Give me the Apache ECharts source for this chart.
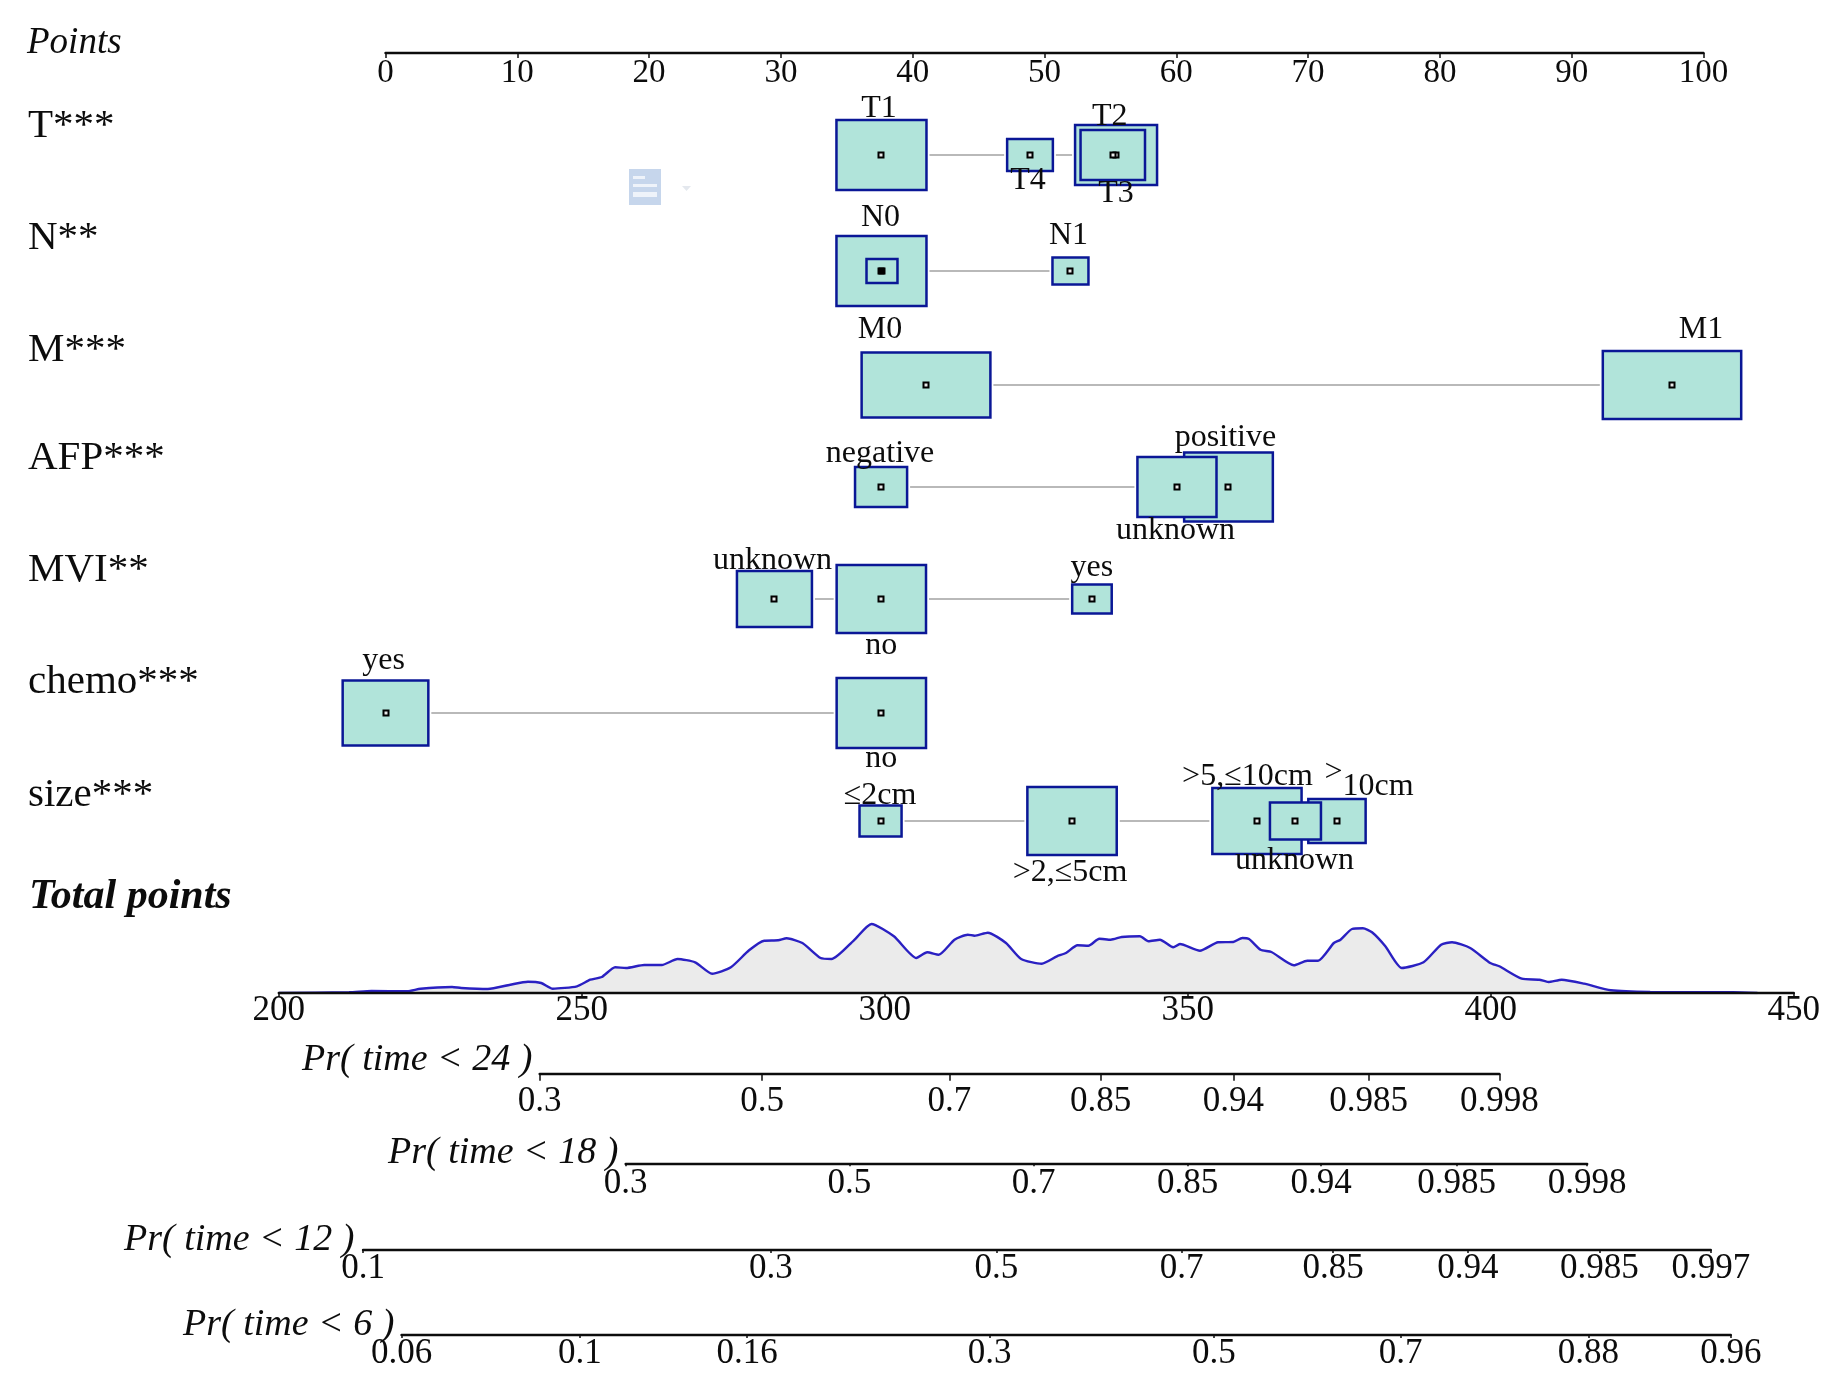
<!DOCTYPE html>
<html>
<head>
<meta charset="utf-8">
<style>html,body{margin:0;padding:0;background:#fff}#chart{width:1842px;height:1375px}</style>
<script src="https://cdn.jsdelivr.net/npm/echarts@6/dist/echarts.min.js"></script>
</head>
<body>
<div id="chart"></div>
<script>
// ---------- data ----------
const rowNames = ['T***','N**','M***','AFP***','MVI**','chemo***','size***'];
const pointTicks = [0,10,20,30,40,50,60,70,80,90,100];

const levelNames  = ['T1','T4','T3','T2','N0','','N1','M0','M1','negative','positive','unknown','unknown','no','yes','no','yes','\u22642cm','>2,\u22645cm','>5,\u226410cm','>10cm','unknown'];
const levelRows   = [0,0,0,0,1,1,1,2,2,3,3,3,4,4,4,5,5,6,6,6,6,6];
const levelPoints = [37.63,48.9,55.43,55.18,37.63,37.67,51.97,41.01,97.61,37.6,63.96,60.05,29.51,37.62,53.6,37.62,0,37.56,52.09,66.12,72.19,69.04];
const boxWidths   = [6.83,3.47,6.22,4.89,6.83,2.35,2.73,9.77,10.5,3.95,6.73,6,5.69,6.78,3,6.78,6.5,3.19,6.78,6.77,4.35,3.87];
const boxHeights  = [70,32,60,50,70,24,27,65,68,40,69,60,56,68,29,70,65,31,68,66,44,37];

const totalTicks = [200,250,300,350,400,450];
const densityTotal = [200,211.6,215.3,221.2,223.4,228.6,230.1,234.5,238.2,241.1,243.3,245.2,249.2,251.4,253.3,255.5,257.3,260.3,263.2,265.8,268.7,271.5,274.6,277.6,280.1,282.4,283.8,286.4,289.4,291.2,294.9,297.8,301.5,305.2,307,308.9,311.5,313.7,314.8,317,320,322.5,325.9,328.4,329.9,331.8,333.6,335.4,337.3,339.1,342.1,343.5,345.4,347.6,348.7,352,355,357.5,359,360.1,362,363.8,367.5,369.7,371.5,374.1,375.2,377.1,378.9,380.4,382.6,385.3,388.9,391.8,393.6,396.6,399.9,401.4,405.1,408,409.5,411.7,415.4,419.8,426.3,440,444];
const densityValue = [0,0.7,2,1.7,4.3,6,5,4,8.3,11.3,10,4.3,6.7,13.3,16,25.7,25,28,28,34,30.7,19.3,25.7,42.7,52.3,52.7,54.7,50,35,34,52.7,69,56.7,35,40.7,38.3,53.3,58.3,57.3,60.3,50,34,29.3,36.7,40,47.7,47.3,54.3,53.3,56,56.7,51.7,53.3,45.7,49,42.3,50.7,51,55,54,43.3,41,27.7,32.3,32.3,50,53.3,64,64.7,60.7,46.7,25,30.7,48.3,50.7,45,30,26.7,14.3,13.3,11,13.3,9.3,2.7,1,0.8,0];

const pr24Labels = ['0.3','0.5','0.7','0.85','0.94','0.985','0.998'];
const pr24Total  = [243.05,279.74,310.66,335.6,357.5,379.85,401.4];
const pr18Labels = ['0.3','0.5','0.7','0.85','0.94','0.985','0.998'];
const pr18Total  = [257.24,294.16,324.54,349.97,372,394.34,415.9];
const pr12Labels = ['0.1','0.3','0.5','0.7','0.85','0.94','0.985','0.997'];
const pr12Total  = [213.9,281.2,318.4,349,374,396.2,417.9,436.3];
const pr6Labels  = ['0.06','0.1','0.16','0.3','0.5','0.7','0.88','0.96'];
const pr6Total   = [220.25,249.7,277.3,317.3,354.3,385.1,416.1,439.6];

// ---------- layout and style ----------
const SERIF = '"Liberation Serif","Times New Roman",serif';
const INK = '#0c0c0c';
const rowCentres = [102,218,332,434,546,660,768];         // row centres on the hidden row axis
const rowLabelY  = [126.5,238.5,350.5,458.5,570.5,682.5,795.5];
const labelDx = [-2.5,-2,0,-3,-1,0,-2,-46,29,-1,-3,-1.5,-2,0,0,0,-2,-0.5,-2,-9.5,32,-1];
const labelDy = [-46,26,39,-38,-53,0,-35,-55,-55,-33,-49,44,-38,47,-31,46,-52,-25,52,-44,-41,40];
const TOTAL_LEFT = 278.8, TOTAL_PX = 6.06;
const prAxes = [
  {name:'Pr( time < 24 )', labels:pr24Labels, total:pr24Total, y:1073.7, margin:11, tick:7, nameX:302, nameY:1060.5},
  {name:'Pr( time < 18 )', labels:pr18Labels, total:pr18Total, y:1163.3, margin:3, tick:3, nameX:388, nameY:1153.5},
  {name:'Pr( time < 12 )', labels:pr12Labels, total:pr12Total, y:1250,   margin:1, tick:3, nameX:124, nameY:1240.5},
  {name:'Pr( time < 6 )',  labels:pr6Labels,  total:pr6Total,  y:1335,   margin:1, tick:3, nameX:183, nameY:1325.5}
];

const boxData = levelPoints.map((p,i)=>[p, rowCentres[levelRows[i]], boxWidths[i], boxHeights[i]]);

const grids = [
  {left:385.5, width:1318, top:53, height:800},
  {left:TOTAL_LEFT, width:TOTAL_PX*250, top:913, height:80}
];
const xAxes = [
  {gridIndex:0, type:'value', position:'top', min:0, max:100, interval:10,
   axisLine:{onZero:false, lineStyle:{color:INK,width:2.4}},
   axisTick:{show:true, inside:true, length:5, lineStyle:{color:INK,width:1.5}},
   axisLabel:{inside:true, margin:4, color:INK, fontFamily:SERIF, fontSize:33, verticalAlign:'top', showMinLabel:true, showMaxLabel:true, hideOverlap:false},
   splitLine:{show:false}},
  {gridIndex:1, type:'value', min:200, max:450, interval:50, z:6,
   axisLine:{onZero:false, lineStyle:{color:INK,width:2.4}},
   axisTick:{show:true, length:4, lineStyle:{color:INK,width:1.5}},
   axisLabel:{margin:0, color:INK, fontFamily:SERIF, fontSize:35, showMinLabel:true, showMaxLabel:true, hideOverlap:false},
   splitLine:{show:false}}
];
const yAxes = [
  {gridIndex:0, type:'value', min:0, max:800, inverse:true, show:false},
  {gridIndex:1, type:'value', min:0, max:80, show:false}
];
prAxes.forEach(function(a,k){
  const left = TOTAL_LEFT + (a.total[0]-200)*TOTAL_PX;
  const width = (a.total[a.total.length-1]-a.total[0])*TOTAL_PX;
  grids.push({left:left, width:width, top:a.y-20, height:20});
  xAxes.push({gridIndex:k+2, type:'value', min:a.total[0], max:a.total[a.total.length-1],
    axisLine:{onZero:false, lineStyle:{color:INK,width:2.4}},
    axisTick:{show:true, length:a.tick, customValues:a.total, lineStyle:{color:INK,width:1.5}},
    axisLabel:{margin:a.margin, customValues:a.total, color:INK, fontFamily:SERIF, fontSize:35, hideOverlap:false,
      showMinLabel:true, showMaxLabel:true,
      formatter:function(v){ return a.labels[a.total.indexOf(v)] || ''; }},
    splitLine:{show:false}});
  yAxes.push({gridIndex:k+2, type:'value', min:0, max:1, show:false});
});

const series = [];
// connector lines
rowNames.forEach(function(name,r){
  const pts = levelPoints.filter((p,i)=>levelRows[i]===r);
  series.push({type:'line', name:name+' range', xAxisIndex:0, yAxisIndex:0, silent:true, showSymbol:false, z:2,
    data:[[Math.min.apply(null,pts), rowCentres[r]],[Math.max.apply(null,pts), rowCentres[r]]],
    lineStyle:{color:'#b9b9b9', width:2}, animation:false});
});
function boxRect(api, grow){
  const c = api.coord([api.value(0), api.value(1)]);
  const s = api.size([api.value(2), api.value(3)]);
  return {x:c[0]-s[0]/2-grow, y:c[1]-s[1]/2-grow, width:s[0]+2*grow, height:s[1]+2*grow};
}
const customBase = {type:'custom', xAxisIndex:0, yAxisIndex:0, clip:false, silent:true, animation:false,
  encode:{x:0,y:1}, data:boxData};
series.push(Object.assign({}, customBase, {name:'box gap', z:3,
  renderItem:function(p,api){ return {type:'rect', shape:boxRect(api,3), style:{fill:'#fff'}}; }}));
series.push(Object.assign({}, customBase, {name:'frequency boxes', z:4,
  renderItem:function(p,api){ return {type:'rect', shape:boxRect(api,0), style:{fill:'#b1e4da', stroke:'#0a1796', lineWidth:2.5}}; }}));
series.push(Object.assign({}, customBase, {name:'level points', z:5,
  renderItem:function(p,api){
    const c = api.coord([api.value(0), api.value(1)]);
    const solid = levelNames[p.dataIndex]==='';
    return {type:'rect', shape:{x:Math.round(c[0])-2.5, y:Math.round(c[1])-2.5, width:5, height:5},
      style:{fill:solid?'#000':'#e8e8e8', stroke:'#000', lineWidth:2}};
  }}));
series.push(Object.assign({}, customBase, {name:'level names', z:6,
  renderItem:function(p,api){
    const i = p.dataIndex;
    const c = api.coord([api.value(0), api.value(1)]);
    const base = {x:c[0]+labelDx[i], y:c[1]+labelDy[i], font:'32px '+SERIF, fill:INK, align:'center', verticalAlign:'middle'};
    if (levelNames[i]==='>10cm') {
      // the ">" stands higher than the rest of this label in the picture
      base.text = '{hi|>}{lo|10cm}';
      base.rich = {hi:{fontSize:32,fontFamily:SERIF,fill:INK,padding:[0,0,14,0]},
                   lo:{fontSize:32,fontFamily:SERIF,fill:INK,padding:[14,0,0,0]}};
    } else {
      base.text = levelNames[i];
    }
    return {type:'text', style:base};
  }}));
// density of total points
series.push({type:'line', name:'Total points density', xAxisIndex:1, yAxisIndex:1, showSymbol:false, smooth:0.2, silent:true, animation:false, z:2,
  data:densityTotal.map((t,i)=>[t,densityValue[i]]),
  lineStyle:{color:'#2a20c2', width:2.4}, areaStyle:{color:'#ebebeb', opacity:1}});
// invisible series keep the probability grids alive
prAxes.forEach(function(a,k){
  series.push({type:'line', name:a.name, xAxisIndex:k+2, yAxisIndex:k+2, showSymbol:false, silent:true, animation:false,
    data:a.total.map(t=>[t,0]), lineStyle:{opacity:0}});
});

function txt(text,x,y,font){
  return {type:'text', x:x, y:y, silent:true, style:{text:text, font:font, fill:INK, textAlign:'left', textVerticalAlign:'middle'}};
}
const graphicEls = [
  txt('Points',27,43.5,'italic 37px '+SERIF),
  txt('Total points',29,897.5,'italic bold 42px '+SERIF)
];
rowNames.forEach((n,r)=>graphicEls.push(txt(n,28,rowLabelY[r],'41px '+SERIF)));
prAxes.forEach(a=>graphicEls.push(txt(a.name,a.nameX,a.nameY,'italic 38px '+SERIF)));
// faint document mark that sits on the scan
graphicEls.push(
  {type:'rect', shape:{x:629,y:169,width:32,height:36}, style:{fill:'#c6d6ec'}, silent:true},
  {type:'rect', shape:{x:633,y:176,width:12,height:3}, style:{fill:'#eef3fa'}, silent:true},
  {type:'rect', shape:{x:633,y:184,width:24,height:3}, style:{fill:'#eef3fa'}, silent:true},
  {type:'rect', shape:{x:633,y:192,width:24,height:5}, style:{fill:'#eef3fa'}, silent:true},
  {type:'polygon', shape:{points:[[682,186],[691,186],[686.5,191]]}, style:{fill:'#e4e8ee'}, silent:true}
);

const chart = echarts.init(document.getElementById('chart'));
chart.setOption({
  animation:false, backgroundColor:'#fff',
  grid:grids, xAxis:xAxes, yAxis:yAxes, series:series, graphic:{elements:graphicEls},
  tooltip:{show:false}, legend:{show:false}
});
</script>
</body>
</html>
